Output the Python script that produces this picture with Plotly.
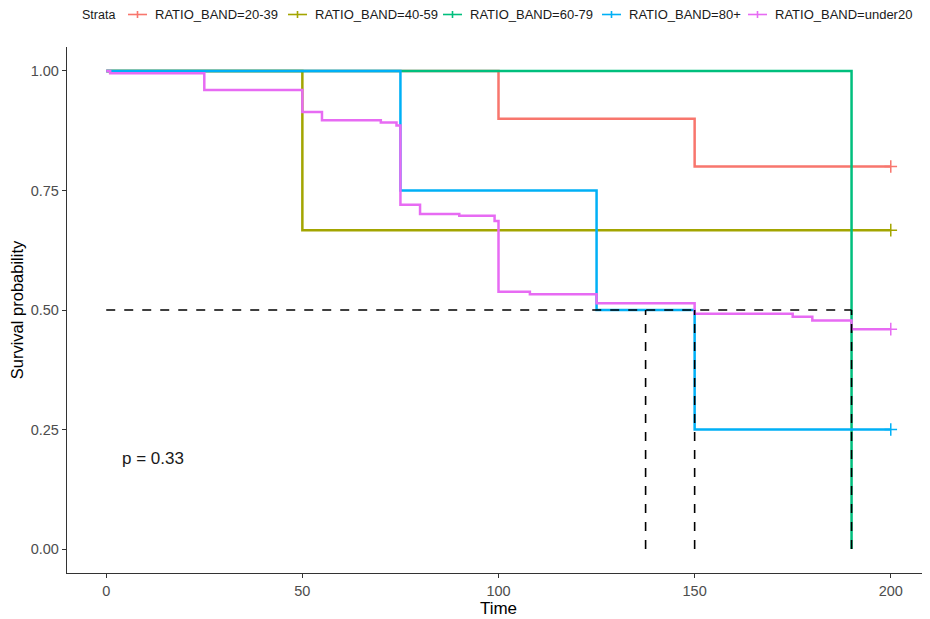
import plotly.graph_objects as go

# ---- data ----
strata = ["RATIO_BAND=20-39", "RATIO_BAND=40-59", "RATIO_BAND=60-79", "RATIO_BAND=80+", "RATIO_BAND=under20"]
colors = ["#F8766D", "#A3A500", "#00BF7D", "#00B0F6", "#E76BF3"]
legend_title = "Strata"

t_20_39 = [0, 100, 150, 200]
s_20_39 = [1.0, 0.9, 0.8, 0.8]

t_40_59 = [0, 50, 200]
s_40_59 = [1.0, 0.667, 0.667]

t_60_79 = [0, 190]
s_60_79 = [1.0, 0.0]

t_80 = [0, 75, 125, 150, 200]
s_80 = [1.0, 0.75, 0.5, 0.25, 0.25]

t_u20 = [0, 1, 25, 50, 55, 70, 74, 75, 80, 90, 99, 100, 108, 125, 150, 175, 180, 190, 200]
s_u20 = [1.0, 0.995, 0.960, 0.914, 0.897, 0.892, 0.886, 0.720, 0.701, 0.697, 0.686,
         0.538, 0.533, 0.514, 0.492, 0.486, 0.478, 0.460, 0.460]

censor_t = [[200], [200], [], [200], [200]]
censor_s = [[0.8], [0.667], [], [0.25], [0.46]]

median_level = 0.5
median_times = [137.5, 150, 190]

x_ticks = [0, 50, 100, 150, 200]
y_ticks = [0.0, 0.25, 0.5, 0.75, 1.0]
y_tick_labels = ["0.00", "0.25", "0.50", "0.75", "1.00"]
pval_text = "p = 0.33"

curves_t = [t_20_39, t_40_59, t_60_79, t_80, t_u20]
curves_s = [s_20_39, s_40_59, s_60_79, s_80, s_u20]

# ---- figure geometry (pixels) ----
W, H = 922, 611
ML, MR, MT, MB = 59, 0, 39, 46
PW, PH = W - ML - MR, H - MT - MB


def px2paper_x(px):
    return (px - ML) / PW


def px2paper_y(py):
    return (H - MB - py) / PH


fig = go.Figure()

for name, col, tt, ss, ct, cs in zip(strata, colors, curves_t, curves_s, censor_t, censor_s):
    fig.add_trace(go.Scatter(x=tt, y=ss, mode="lines", name=name,
                             line=dict(color=col, width=2.5, shape="hv"), showlegend=False))
    if ct:
        fig.add_trace(go.Scatter(x=ct, y=cs, mode="markers", name=name,
                                 marker=dict(symbol="cross-thin", size=9, color=col,
                                             line=dict(color=col, width=1.5)),
                                 showlegend=False, hoverinfo="skip"))

# median lines
fig.add_trace(go.Scatter(x=[0, max(median_times)], y=[median_level, median_level], mode="lines",
                         line=dict(color="black", width=1.6, dash="dash"), showlegend=False, hoverinfo="skip"))
for mt in median_times:
    fig.add_trace(go.Scatter(x=[mt, mt], y=[0, median_level], mode="lines",
                             line=dict(color="black", width=1.6, dash="dash"), showlegend=False, hoverinfo="skip"))

fig.add_annotation(x=3.5, y=0.19, text=pval_text, showarrow=False, xanchor="left", yanchor="middle",
                   font=dict(size=17, color="#1a1a1a"))

# ---- legend drawn at top (ggplot style) ----
leg_y = 6.5                       # legend centre row, figure pixels
title_left = 72
key_lefts = [120, 280, 435, 594, 740]  # left edge of each key, figure pixels
key_w, key_h, key_gap = 19, 7, 6
fig.add_annotation(xref="paper", yref="paper", x=px2paper_x(title_left), y=px2paper_y(leg_y),
                   text=legend_title, showarrow=False, xanchor="left", yanchor="middle",
                   font=dict(size=12.5, color="#1a1a1a"))
for name, col, kl in zip(strata, colors, key_lefts):
    fig.add_shape(type="line", xref="paper", yref="paper",
                  x0=px2paper_x(kl), x1=px2paper_x(kl + key_w),
                  y0=px2paper_y(leg_y), y1=px2paper_y(leg_y), line=dict(color=col, width=1.6))
    fig.add_shape(type="line", xref="paper", yref="paper",
                  x0=px2paper_x(kl + key_w / 2), x1=px2paper_x(kl + key_w / 2),
                  y0=px2paper_y(leg_y - key_h / 2), y1=px2paper_y(leg_y + key_h / 2),
                  line=dict(color=col, width=1.6))
    fig.add_annotation(xref="paper", yref="paper", x=px2paper_x(kl + key_w + key_gap), y=px2paper_y(leg_y),
                       text=name, showarrow=False, xanchor="left", yanchor="middle",
                       font=dict(size=13, color="#1a1a1a"))

axis_common = dict(showline=True, linecolor="#333333", linewidth=1.3, ticks="outside", ticklen=4,
                   tickwidth=1.2, tickcolor="#333333", showgrid=False, zeroline=False, automargin=False,
                   tickfont=dict(size=14.5, color="#4D4D4D"))

fig.update_layout(
    width=W, height=H,
    paper_bgcolor="white", plot_bgcolor="white",
    font=dict(family="Liberation Sans, Arial, sans-serif"),
    margin=dict(l=ML, r=MR, t=MT, b=MB, autoexpand=False),
    showlegend=False,
    xaxis=dict(range=[-10, 210], tickvals=x_ticks, title=dict(text="Time", font=dict(size=17, color="black"), standoff=3), **axis_common),
    yaxis=dict(range=[-0.05, 1.05], tickvals=y_ticks, ticktext=y_tick_labels,
               title=dict(text="Survival probability", font=dict(size=16.5, color="black"), standoff=3), **axis_common),
)

fig.write_html("out.html")
